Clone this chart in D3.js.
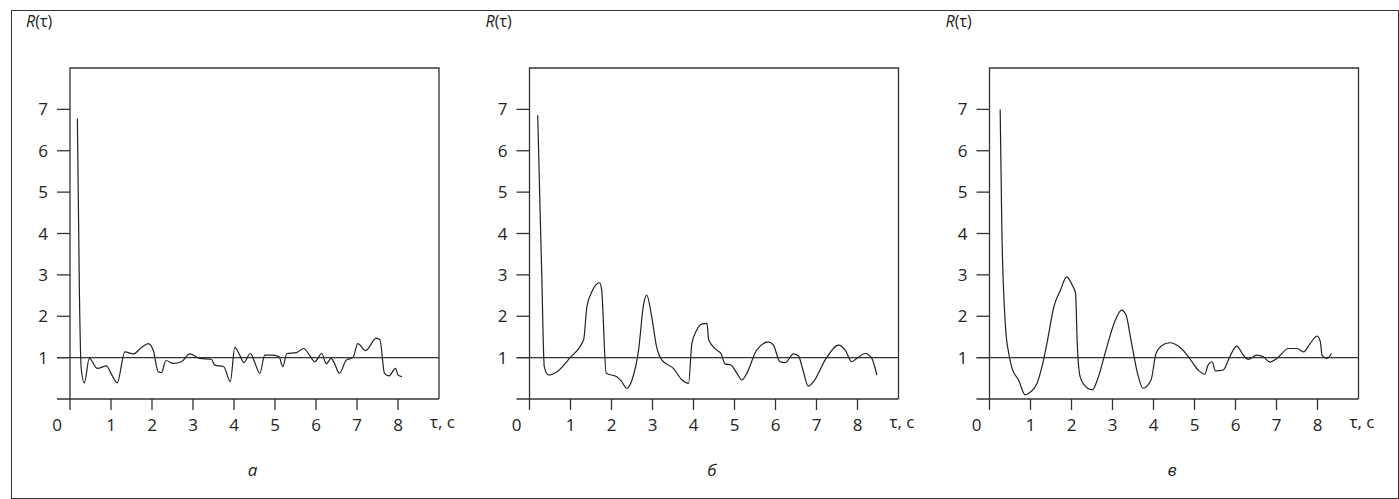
<!DOCTYPE html>
<html><head><meta charset="utf-8">
<script src="https://cdn.jsdelivr.net/npm/d3@7"></script>
<style>body{margin:0;background:#fff}text{font-family:"Open Sans",sans-serif;fill:#222}</style>
</head><body><div id="viz"></div>
<script>
const xTicks = [1, 2, 3, 4, 5, 6, 7, 8];
const yTicks = [1, 2, 3, 4, 5, 6, 7];
const panelLabels = ["а", "б", "в"];

const seriesA = [[.18,6.78],[.23,2.54],[.27,.78],[.35,.39],[.47,.98],[.67,.74],[.89,.8],[1.0,.62],[1.15,.39],[1.34,1.14],[1.54,1.09],[1.75,1.25],[1.91,1.34],[2.03,1.18],[2.15,.66],[2.23,.64],[2.34,.93],[2.52,.86],[2.72,.9],[2.92,1.09],[3.17,.98],[3.45,.96],[3.53,.82],[3.75,.78],[3.91,.42],[4.02,1.25],[4.14,1.06],[4.24,.88],[4.4,1.1],[4.5,.9],[4.63,.62],[4.75,1.06],[4.95,1.06],[5.1,1.02],[5.19,.78],[5.29,1.1],[5.52,1.12],[5.7,1.22],[5.84,1.06],[5.97,.9],[6.14,1.1],[6.25,.85],[6.37,.98],[6.45,.86],[6.57,.62],[6.74,.94],[6.9,1.0],[7.02,1.34],[7.21,1.17],[7.47,1.47],[7.56,1.43],[7.67,.62],[7.78,.56],[7.94,.74],[8.0,.58],[8.1,.54]];
const seriesB = [[.2,6.86],[.3,2.95],[.36,.78],[.46,.58],[.67,.66],[.99,1.0],[1.32,1.43],[1.4,2.23],[1.52,2.59],[1.71,2.81],[1.76,2.63],[1.87,.62],[2.13,.54],[2.25,.42],[2.37,.26],[2.5,.46],[2.66,1.18],[2.78,2.27],[2.86,2.51],[2.98,1.99],[3.1,1.26],[3.23,.94],[3.51,.74],[3.72,.46],[3.88,.38],[3.96,1.34],[4.08,1.67],[4.2,1.81],[4.33,1.83],[4.37,1.43],[4.57,1.18],[4.67,1.1],[4.77,.85],[4.91,.82],[5.06,.62],[5.18,.46],[5.3,.62],[5.54,1.18],[5.83,1.38],[5.95,1.3],[6.11,.9],[6.24,.88],[6.44,1.09],[6.56,1.04],[6.67,.7],[6.8,.31],[6.93,.42],[7.21,.94],[7.54,1.3],[7.7,1.18],[7.86,.9],[7.98,.98],[8.19,1.1],[8.35,.98],[8.47,.58]];
const seriesC = [[.26,7.0],[.3,4.16],[.39,1.75],[.47,1.1],[.55,.74],[.71,.46],[.87,.1],[.96,.14],[1.16,.38],[1.28,.78],[1.4,1.34],[1.57,2.23],[1.73,2.63],[1.88,2.95],[2.02,2.75],[2.1,2.55],[2.14,1.34],[2.21,.54],[2.31,.34],[2.51,.22],[2.63,.46],[2.84,1.18],[3.04,1.83],[3.22,2.15],[3.33,2.03],[3.45,1.43],[3.61,.62],[3.74,.26],[3.94,.46],[4.06,1.1],[4.19,1.28],[4.39,1.36],[4.68,1.22],[4.88,.98],[5.09,.7],[5.25,.6],[5.33,.82],[5.43,.9],[5.51,.68],[5.7,.7],[5.86,1.02],[6.03,1.28],[6.19,1.06],[6.31,.96],[6.52,1.06],[6.68,1.02],[6.84,.89],[7.01,.98],[7.29,1.22],[7.5,1.22],[7.66,1.14],[7.82,1.34],[7.99,1.52],[8.07,1.38],[8.11,1.06],[8.23,.98],[8.34,1.1]];
const allSeries = [seriesA, seriesB, seriesC];

const width = 1399, height = 499;
const ink = "#333";
const svg = d3.select("#viz").append("svg").attr("width", width).attr("height", height);

// outer frame
svg.append("rect").attr("x", 11.5).attr("y", 10.5).attr("width", width - 12).attr("height", height - 11)
    .attr("fill", "none").attr("stroke", ink).attr("stroke-width", 1);

const panelX = [70, 529.5, 989.5];

allSeries.forEach((data, i) => {
    const x0 = panelX[i];
    const x = d3.scaleLinear().domain([0, 9]).range([x0, x0 + 369]);
    const y = d3.scaleLinear().domain([0, 8]).range([399, 68]);
    const g = svg.append("g");

    // frame: top, right, left (extended below axis)
    g.append("path").attr("fill", "none").attr("stroke", ink).attr("stroke-width", 1.3)
        .attr("d", `M${x(0)},${y(0) + 11}V${y(8)}H${x(9)}V${y(0)}`);
    // bottom axis line extended left
    g.append("line").attr("x1", x(0) - 13).attr("x2", x(9)).attr("y1", y(0)).attr("y2", y(0))
        .attr("stroke", ink).attr("stroke-width", 1.3);
    // reference line R=1
    g.append("line").attr("x1", x(0) - 13).attr("x2", x(9)).attr("y1", y(1)).attr("y2", y(1))
        .attr("stroke", ink).attr("stroke-width", 1.2);

    g.selectAll(".xt").data(xTicks).enter().append("line")
        .attr("x1", d => x(d)).attr("x2", d => x(d)).attr("y1", y(0)).attr("y2", y(0) + 11)
        .attr("stroke", ink).attr("stroke-width", 1.3);
    g.selectAll(".xl").data([0].concat(xTicks)).enter().append("text")
        .attr("x", d => d === 0 ? x(0) - 13 : x(d)).attr("y", y(0) + 32)
        .attr("text-anchor", "middle").attr("font-size", 17).text(d => d);
    g.selectAll(".yt").data(yTicks).enter().append("line")
        .attr("x1", x(0) - 13).attr("x2", x(0)).attr("y1", d => y(d)).attr("y2", d => y(d))
        .attr("stroke", ink).attr("stroke-width", 1.3);
    g.selectAll(".yl").data(yTicks).enter().append("text")
        .attr("x", x(0) - 27).attr("y", d => y(d) + 6)
        .attr("text-anchor", "middle").attr("font-size", 17).text(d => d);

    g.append("text").attr("x", x(0) - 44).attr("y", 27).attr("font-size", 16)
        .html('<tspan font-style="italic">R</tspan>(τ)');
    g.append("text").attr("x", x(9) - 9).attr("y", y(0) + 29).attr("font-size", 17).text("τ, с");
    g.append("text").attr("x", x(4.5) - 2).attr("y", 476).attr("text-anchor", "middle")
        .attr("font-size", 17).attr("font-style", "italic").text(panelLabels[i]);

    g.append("path").datum(data).attr("fill", "none").attr("stroke", "#222").attr("stroke-width", 1.2)
        .attr("d", d3.line().x(d => x(d[0])).y(d => y(d[1])).curve(d3.curveMonotoneX));
});
</script></body></html>
